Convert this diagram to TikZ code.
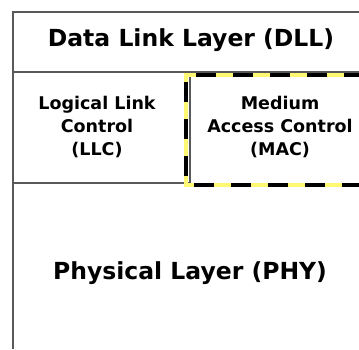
\documentclass[tikz,border=0pt]{standalone}
\usepackage{fontspec}
\setmainfont{DejaVu Sans}
\begin{document}
\begin{tikzpicture}[x=1pt,y=-1pt,
  frame/.style={draw=black!65, line width=1.2pt},
  lbl/.style={font=\bfseries, text=black, align=center, inner sep=0pt},
  macb/.style={draw=yellow!55!white, line width=3.5pt},
  macd/.style={draw=black, line width=3.5pt, dash pattern=on 20pt off 17pt}]
\useasboundingbox (0,0) rectangle (359,349);
\fill[white] (0,0) rectangle (359,349);
% frame
\draw[frame] (13,349) -- (13,12) -- (362,12);
\draw[frame] (13,72) -- (362,72);
\draw[frame] (13,183) -- (190,183);
\draw[frame] (190,72) -- (190,183);
% MAC dashed box
\draw[macb] (364,75) -- (186,75) -- (186,185) -- (364,185);
\draw[macd] (364,75) -- (186,75) -- (186,185) -- (364,185);
% texts
\node[lbl, font=\bfseries\fontsize{23.5}{26}\selectfont] (dll) at (191,40) {Data Link Layer (DLL)};
\node[lbl, font=\bfseries\fontsize{17.5}{23}\selectfont] (llc) at (97,127) {Logical Link\\Control\\(LLC)};
\node[lbl, font=\bfseries\fontsize{17.5}{23}\selectfont] (mac) at (280,127) {Medium\\Access Control\\(MAC)};
\node[lbl, font=\bfseries\fontsize{23.5}{26}\selectfont] (phy) at (190,273) {Physical Layer (PHY)};
\end{tikzpicture}
\end{document}
